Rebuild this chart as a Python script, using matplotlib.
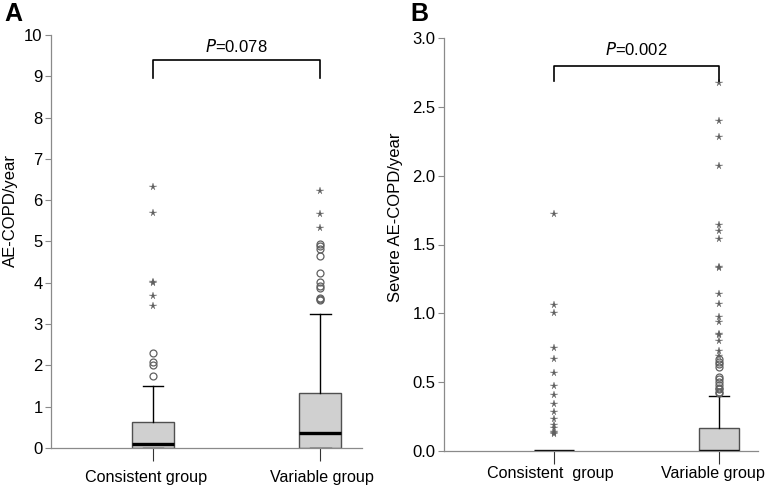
import matplotlib
matplotlib.use("Agg")
import matplotlib.pyplot as plt
from matplotlib.transforms import ScaledTranslation, blended_transform_factory

plt.rcParams['font.family'] = ['Liberation Sans', 'DejaVu Sans']

# ---------------- data ----------------
groups_a = ["Consistent group", "Variable group"]
groups_b = ["Consistent  group", "Variable group"]

# Panel A: AE-COPD/year  (whisker_low, q1, median, q3, whisker_high)
a_stats_consistent = [0.0, 0.0, 0.10, 0.63, 1.50]
a_stats_variable = [0.0, 0.0, 0.36, 1.33, 3.25]
a_circles_consistent = [1.75, 2.00, 2.08, 2.30]
a_stars_consistent = [3.43, 3.67, 4.00, 4.02, 5.70, 6.33]
a_circles_variable = [3.58, 3.60, 3.62, 3.88, 3.92, 4.02, 4.23, 4.66, 4.82, 4.88, 4.94]
a_stars_variable = [5.33, 5.66, 6.23]
p_a = "0.078"

# Panel B: Severe AE-COPD/year
b_stats_consistent = [0.0, 0.0, 0.0, 0.0, 0.0]
b_stats_variable = [0.0, 0.0, 0.0, 0.17, 0.40]
b_circles_consistent = []
b_stars_consistent = [0.12, 0.13, 0.14, 0.17, 0.19, 0.23, 0.28, 0.34, 0.41,
                      0.47, 0.57, 0.67, 0.75, 1.00, 1.06, 1.72]
b_circles_variable = [0.42, 0.43, 0.45, 0.46, 0.48, 0.50, 0.52, 0.54,
                      0.61, 0.63, 0.65, 0.67]
b_stars_variable = [0.69, 0.73, 0.80, 0.84, 0.85, 0.94, 0.97, 1.07, 1.14,
                    1.33, 1.34, 1.54, 1.60, 1.64, 2.07, 2.28, 2.40, 2.67]
p_b = "0.002"

a_yticks = [0, 1, 2, 3, 4, 5, 6, 7, 8, 9, 10]
a_yticklabels = ["0", "1", "2", "3", "4", "5", "6", "7", "8", "9", "10"]
b_yticks = [0.0, 0.5, 1.0, 1.5, 2.0, 2.5, 3.0]
b_yticklabels = ["0.0", "0.5", "1.0", "1.5", "2.0", "2.5", "3.0"]

# ---------------- drawing ----------------
W, H = 767, 487
fig = plt.figure(figsize=(W / 100, H / 100), dpi=100)

AX_GRAY = "#8a8a8a"
BOX_FILL = "#d0d0d0"
BOX_EDGE = "#505050"
OUT_COL = "#606060"


def make_stats(vals, label):
    lo, q1, med, q3, hi = vals
    return dict(whislo=lo, q1=q1, med=med, q3=q3, whishi=hi, label=label, fliers=[])


def panel(rect, stats, circles, stars, labels, label_shift, label_drop, yticks, yticklabels,
          ylim, xlim, width, ylabel, ylabel_pos, bracket_y, bracket_drop, p_text, p_y):
    ax = fig.add_axes(rect)
    bstats = [make_stats(s, l) for s, l in zip(stats, labels)]
    ax.bxp(bstats, positions=[1, 2], widths=width, patch_artist=True,
           showfliers=False,
           boxprops=dict(facecolor=BOX_FILL, edgecolor=BOX_EDGE, linewidth=1.0),
           medianprops=dict(color="black", linewidth=2.4, solid_capstyle="butt"),
           whiskerprops=dict(color="black", linewidth=1.0),
           capprops=dict(color="black", linewidth=1.0),
           capwidths=width * 0.5)
    for i, (c, s) in enumerate(zip(circles, stars)):
        pos = i + 1
        if c:
            ax.plot([pos] * len(c), c, linestyle="none", marker="o", markersize=5,
                    markerfacecolor="none", markeredgecolor=OUT_COL, markeredgewidth=0.9,
                    clip_on=False)
        if s:
            ax.plot([pos] * len(s), s, linestyle="none", marker="*", markersize=5.5,
                    markerfacecolor=OUT_COL, markeredgecolor=OUT_COL, markeredgewidth=0.2,
                    clip_on=False)
    ax.set_xlim(*xlim)
    ax.set_ylim(*ylim)
    ax.set_yticks(yticks)
    ax.set_yticklabels(yticklabels, fontsize=12)
    ax.set_xticks([1, 2])
    ax.set_xticklabels(["", ""])
    base = blended_transform_factory(ax.transData, ax.transAxes)
    for pos, (lab, dx) in enumerate(zip(labels, label_shift), start=1):
        tr = base + ScaledTranslation(dx / 100, -label_drop / 100, fig.dpi_scale_trans)
        ax.text(pos, 0, lab, transform=tr, ha="center", va="baseline", fontsize=11.6)
    ax.tick_params(axis="y", length=4, width=0.8, color=AX_GRAY, pad=2)
    ax.tick_params(axis="x", length=9, width=0.8, color="#333333", pad=6)
    for sp in ["top", "right"]:
        ax.spines[sp].set_visible(False)
    for sp in ["left", "bottom"]:
        ax.spines[sp].set_color(AX_GRAY)
        ax.spines[sp].set_linewidth(0.9)
    ax.set_ylabel(ylabel, fontsize=12)
    ax.yaxis.set_label_coords(*ylabel_pos)
    # significance bracket
    ax.plot([1, 1, 2, 2], [bracket_drop, bracket_y, bracket_y, bracket_drop],
            color="black", linewidth=1.2, clip_on=False)
    ax.text(1.5, p_y, r"$\mathit{P}$=" + p_text, ha="center", va="center", fontsize=12)
    return ax


axA = panel([51 / W, 1 - 448 / H, (362 - 51) / W, (448 - 35) / H],
            [a_stats_consistent, a_stats_variable],
            [a_circles_consistent, a_circles_variable],
            [a_stars_consistent, a_stars_variable],
            groups_a, [-7, 2], 34, a_yticks, a_yticklabels, (0, 10), (0.389, 2.251), 0.25,
            "AE-COPD/year", (-0.106, 0.574), 9.39, 8.95, p_a, 9.72)

axB = panel([444 / W, 1 - 451 / H, (758 - 444) / W, (451 - 38) / H],
            [b_stats_consistent, b_stats_variable],
            [b_circles_consistent, b_circles_variable],
            [b_stars_consistent, b_stars_variable],
            groups_b, [-4, -6], 27, b_yticks, b_yticklabels, (0, 3.0), (0.334, 2.235), 0.242,
            "Severe AE-COPD/year", (-0.13, 0.567), 2.80, 2.69, p_b, 2.92)

fig.text(4 / W, 1 - 14 / H, "A", fontsize=18, fontweight="bold", va="center", ha="left")
fig.text(410 / W, 1 - 14 / H, "B", fontsize=18, fontweight="bold", va="center", ha="left")

fig.savefig("out.png", dpi=100)
